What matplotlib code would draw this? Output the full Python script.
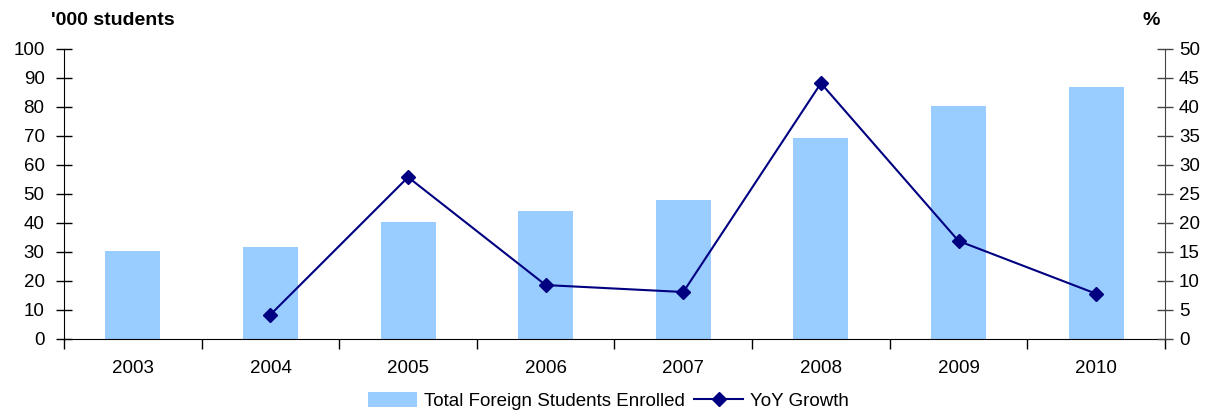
import numpy as np
import matplotlib.pyplot as plt

plt.rcParams['font.family'] = ['Liberation Sans', 'DejaVu Sans']

years = ['2003', '2004', '2005', '2006', '2007', '2008', '2009', '2010']
students = [30.4, 31.8, 40.4, 44.2, 48.1, 69.4, 80.4, 86.9]   # '000
growth_years = ['2004', '2005', '2006', '2007', '2008', '2009', '2010']
growth = [4.2, 27.9, 9.3, 8.1, 44.1, 16.9, 7.8]   # %

x = np.arange(len(years))
gx = [years.index(y) for y in growth_years]

fig = plt.figure(figsize=(12.1, 4.11), dpi=100)
ax = fig.add_axes([0.0529, 0.1752, 0.9099, 0.7056])
ax2 = ax.twinx()

bars = ax.bar(x, students, width=0.4, color='#99CCFF', zorder=1)
line, = ax2.plot(gx, growth, color='#000080', lw=1.5, marker='D', ms=7,
                 markerfacecolor='#000080', zorder=3)

ax.set_xlim(-0.5, len(years) - 0.5)
ax.set_ylim(0, 100)
ax2.set_ylim(0, 50)
ax.set_yticks(range(0, 101, 10))
ax2.set_yticks(range(0, 51, 5))

ax.set_xticks(x)
ax.set_xticklabels(years)
ax.set_xticks(np.arange(-0.5, len(years), 1), minor=True)
ax.tick_params(axis='x', which='major', length=0, pad=15, labelsize=13.5)
ax.tick_params(axis='x', which='minor', length=7, direction='out', width=1)
ax.tick_params(axis='y', length=12, direction='inout', width=1, labelsize=13.5, pad=8)
ax2.tick_params(axis='y', length=12, direction='inout', width=1, labelsize=13.5, pad=4,
                color='#444444')

for a in (ax, ax2):
    a.spines['top'].set_visible(False)
ax.spines['right'].set_visible(False)
ax2.spines['left'].set_visible(False)
ax2.spines['bottom'].set_visible(False)
ax2.spines['right'].set_color('#444444')

fig.text(0.042, 0.95, "'000 students", fontsize=14, fontweight='bold', va='center')
fig.text(0.951, 0.95, '%', fontsize=14, fontweight='bold', va='center', ha='center')

fig.legend([bars, line], ['Total Foreign Students Enrolled', 'YoY Growth'],
           loc='center', bbox_to_anchor=(0.503, 0.024), ncol=2, frameon=False,
           fontsize=13.5, handlelength=2.6, handleheight=0.85, handletextpad=0.37,
           columnspacing=0.5, borderpad=0)

fig.savefig('out.png', dpi=100)
